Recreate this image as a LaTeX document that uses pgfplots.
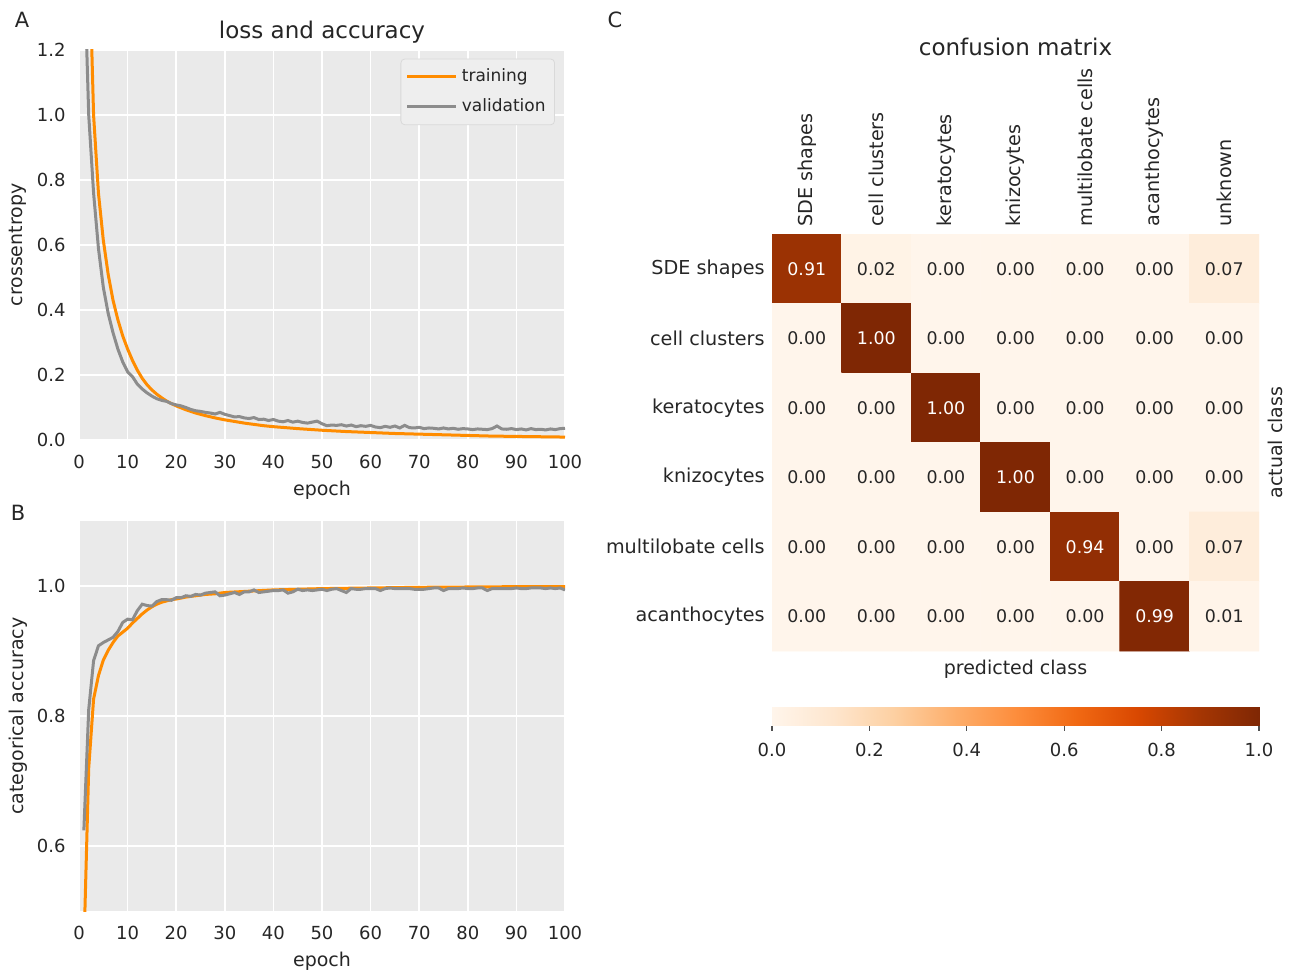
\documentclass[border=0pt]{standalone}
\usepackage{fontspec}
\setmainfont{DejaVu Sans}
\usepackage{pgfplots}
\pgfplotsset{compat=1.18}
\definecolor{bgc}{HTML}{EAEAEA}
\definecolor{txt}{HTML}{262626}
\definecolor{orl}{HTML}{FF8C00}
\definecolor{grl}{HTML}{8C8C8C}
\pgfplotsset{
  colormap={Oranges}{rgb255=(255,245,235) rgb255=(254,230,206) rgb255=(253,208,162) rgb255=(253,174,107) rgb255=(253,141,60) rgb255=(241,105,19) rgb255=(217,72,1) rgb255=(166,54,3) rgb255=(127,39,4)},
  curvestyle/.style={
    scale only axis, width=243pt, height=195pt, xmin=0, xmax=100,
    axis background/.style={fill=bgc},
    axis line style={draw=none},
    grid=major, major grid style={white, line width=0.75pt},
    major tick length=0pt,
    xtick={0,10,...,100},
    /pgf/number format/assume math mode=true,
    tick label style={font=\fontsize{9}{10}\selectfont, text=txt, inner sep=0pt},
    xticklabel style={anchor=base, yshift=-14.3pt},
    yticklabel style={anchor=east, xshift=-6.5pt, /pgf/number format/.cd, fixed, fixed zerofill, precision=1},
    label style={font=\fontsize{9.5}{11}\selectfont, text=txt},
    xlabel style={at={(axis description cs:0.5,0)}, anchor=base, yshift=-27.8pt},
    ylabel style={at={(axis description cs:-0.1255,0.5)}, anchor=center},
  },
}
\begin{document}
\begin{tikzpicture}
\useasboundingbox (0,0) rectangle (648pt,485pt);
\node[font=\fontsize{10.5}{12}\selectfont, text=txt] at (11pt,475pt) {A};
\node[font=\fontsize{10.5}{12}\selectfont, text=txt] at (9pt,228.5pt) {B};
\node[font=\fontsize{10.5}{12}\selectfont, text=txt] at (307.5pt,475pt) {C};

% ---------------- Panel A ----------------
\begin{axis}[curvestyle, at={(39.5pt,265pt)}, anchor=south west,
  ymin=0, ymax=1.2, ytick={0,0.2,...,1.2},
  xlabel={epoch}, ylabel={crossentropy},
  title={loss and accuracy},
  title style={at={(axis description cs:0.5,1)}, anchor=base, yshift=-0.5pt, font=\fontsize{11.5}{13}\selectfont, text=txt},
  legend style={at={(0.9794,0.978)}, anchor=north east, fill=bgc!80!white, draw=black!15, rounded corners=2pt,
    font=\fontsize{8.5}{10}\selectfont, text=txt, inner xsep=2.5pt, inner ysep=3pt, row sep=3pt},
  legend image code/.code={\draw[#1, line width=1.5pt] (0pt,0pt) -- (21pt,0pt); \path (0pt,0pt) -- (24.5pt,0pt);},
  legend cell align=left,
]
\addplot[orl, line width=1.5pt] coordinates {
(1,3.2) (2,1.55) (3,1.00) (4,0.76) (5,0.615) (6,0.51) (7,0.43) (8,0.37) (9,0.32) (10,0.28)
(11,0.245) (12,0.215) (13,0.19) (14,0.17) (15,0.154) (16,0.141) (17,0.130) (18,0.120) (19,0.112) (20,0.105)
(22,0.093) (24,0.083) (26,0.075) (28,0.068) (30,0.062) (32,0.057) (34,0.052) (36,0.048) (38,0.044) (40,0.041)
(45,0.035) (50,0.030) (55,0.026) (60,0.023) (65,0.020) (70,0.018) (75,0.016) (80,0.014) (85,0.012) (90,0.011) (95,0.010) (100,0.009)
};
\addlegendentry{training}
\addplot[grl, line width=1.5pt] coordinates {
(1,1.50) (2,1.00) (3,0.76) (4,0.59) (5,0.47) (6,0.39) (7,0.33) (8,0.28) (9,0.24) (10,0.21)
(11,0.195) (12,0.172) (13,0.157) (14,0.145) (15,0.135) (16,0.127) (17,0.122) (18,0.119) (19,0.112) (20,0.108)
(21,0.105) (22,0.100) (23,0.094) (24,0.090) (25,0.088) (26,0.085) (27,0.083) (28,0.080) (29,0.085) (30,0.079)
(31,0.075) (32,0.071) (33,0.072) (34,0.068) (35,0.066) (36,0.069) (37,0.063) (38,0.064) (39,0.060) (40,0.063)
(41,0.058) (42,0.056) (43,0.060) (44,0.055) (45,0.058) (46,0.054) (47,0.052) (48,0.055) (49,0.058) (50,0.050)
(51,0.044) (52,0.046) (53,0.045) (54,0.047) (55,0.043) (56,0.046) (57,0.041) (58,0.044) (59,0.042) (60,0.045)
(61,0.040) (62,0.038) (63,0.042) (64,0.039) (65,0.043) (66,0.037) (67,0.045) (68,0.038) (69,0.037) (70,0.039)
(71,0.035) (72,0.037) (73,0.036) (74,0.034) (75,0.037) (76,0.034) (77,0.036) (78,0.033) (79,0.035) (80,0.034)
(81,0.032) (82,0.034) (83,0.033) (84,0.032) (85,0.035) (86,0.043) (87,0.034) (88,0.033) (89,0.035) (90,0.032)
(91,0.034) (92,0.031) (93,0.035) (94,0.032) (95,0.033) (96,0.031) (97,0.034) (98,0.032) (99,0.035) (100,0.036)
};
\addlegendentry{validation}
\end{axis}

% ---------------- Panel B ----------------
\begin{axis}[curvestyle, at={(39.5pt,29.5pt)}, anchor=south west,
  ymin=0.5, ymax=1.1, ytick={0.6,0.8,1.0},
  xlabel={epoch}, ylabel={categorical accuracy},
]
\addplot[orl, line width=1.5pt] coordinates {
(1,0.44) (2,0.72) (3,0.826) (4,0.862) (5,0.886) (6,0.901) (7,0.913) (8,0.923) (9,0.929) (10,0.935)
(11,0.943) (12,0.950) (13,0.957) (14,0.963) (15,0.968) (16,0.972) (17,0.975) (18,0.977) (19,0.979) (20,0.980)
(22,0.983) (24,0.985) (26,0.987) (28,0.988) (30,0.990) (35,0.992) (40,0.994) (45,0.995) (50,0.996)
(60,0.997) (70,0.998) (80,0.9985) (90,0.999) (100,0.9992)
};
\addplot[grl, line width=1.5pt] coordinates {
(1,0.624) (2,0.81) (3,0.885) (4,0.908) (5,0.913) (6,0.917) (7,0.921) (8,0.930) (9,0.944) (10,0.949)
(11,0.948) (12,0.962) (13,0.972) (14,0.970) (15,0.969) (16,0.976) (17,0.979) (18,0.979) (19,0.978) (20,0.982)
(21,0.982) (22,0.985) (23,0.984) (24,0.987) (25,0.986) (26,0.989) (27,0.990) (28,0.991) (29,0.985) (30,0.986)
(31,0.988) (32,0.990) (33,0.987) (34,0.991) (35,0.991) (36,0.994) (37,0.990) (38,0.991) (39,0.992) (40,0.993)
(41,0.993) (42,0.994) (43,0.989) (44,0.991) (45,0.995) (46,0.993) (47,0.994) (48,0.993) (49,0.994) (50,0.995)
(51,0.993) (52,0.995) (53,0.996) (54,0.993) (55,0.990) (56,0.996) (57,0.995) (58,0.995) (59,0.996) (60,0.996)
(61,0.996) (62,0.993) (63,0.996) (64,0.997) (65,0.996) (66,0.996) (67,0.996) (68,0.996) (69,0.995) (70,0.995)
(71,0.995) (72,0.996) (73,0.997) (74,0.997) (75,0.993) (76,0.996) (77,0.996) (78,0.996) (79,0.997) (80,0.996)
(81,0.996) (82,0.997) (83,0.997) (84,0.993) (85,0.996) (86,0.996) (87,0.996) (88,0.996) (89,0.996) (90,0.997)
(91,0.996) (92,0.996) (93,0.997) (94,0.997) (95,0.997) (96,0.996) (97,0.997) (98,0.996) (99,0.997) (100,0.994)
};
\end{axis}

% ---------------- Panel C ----------------
\begin{axis}[at={(386pt,159.5pt)}, anchor=south west, scale only axis,
  width=243.5pt, height=208.5pt,
  xmin=-0.5, xmax=6.5, ymin=-0.5, ymax=5.5, y dir=reverse,
  axis line style={draw=none}, major tick length=0pt,
  xtick={0,...,6}, ytick={0,...,5},
  xticklabels={SDE shapes, cell clusters, keratocytes, knizocytes, multilobate cells, acanthocytes, unknown},
  yticklabels={SDE shapes, cell clusters, keratocytes, knizocytes, multilobate cells, acanthocytes},
  xticklabel pos=upper,
  tick label style={font=\fontsize{9.6}{11}\selectfont, text=txt},
  xticklabel style={rotate=90, anchor=west, inner xsep=3.5pt, inner ysep=0pt},
  yticklabel style={anchor=east, inner xsep=3.5pt, inner ysep=0pt},
  colormap name=Oranges, point meta min=0, point meta max=1,
  title={confusion matrix},
  title style={at={(axis description cs:0.5,1)}, anchor=base, yshift=83.5pt, font=\fontsize{11.5}{13}\selectfont, text=txt},
  xlabel={predicted class}, ylabel={actual class},
  label style={font=\fontsize{9.5}{11}\selectfont, text=txt},
  xlabel style={at={(axis description cs:0.5,0)}, anchor=base, yshift=-11.5pt},
  ylabel style={at={(axis description cs:1.0329,0.5)}, anchor=center, rotate=0},
]
\addplot[matrix plot*, mesh/cols=7, point meta=explicit] table[meta=c] {
x y c
0 0 0.91
1 0 0.02
2 0 0.00
3 0 0.00
4 0 0.00
5 0 0.00
6 0 0.07
0 1 0.00
1 1 1.00
2 1 0.00
3 1 0.00
4 1 0.00
5 1 0.00
6 1 0.00
0 2 0.00
1 2 0.00
2 2 1.00
3 2 0.00
4 2 0.00
5 2 0.00
6 2 0.00
0 3 0.00
1 3 0.00
2 3 0.00
3 3 1.00
4 3 0.00
5 3 0.00
6 3 0.00
0 4 0.00
1 4 0.00
2 4 0.00
3 4 0.00
4 4 0.94
5 4 0.00
6 4 0.07
0 5 0.00
1 5 0.00
2 5 0.00
3 5 0.00
4 5 0.00
5 5 0.99
6 5 0.01
};
\addplot[draw=none, mark=none, nodes near coords, point meta=explicit symbolic,
  nodes near coords style={anchor=center, font=\fontsize{8.7}{10}\selectfont, text=txt}] table[meta=t] {
x y t
1 0 0.02
2 0 0.00
3 0 0.00
4 0 0.00
5 0 0.00
6 0 0.07
0 1 0.00
2 1 0.00
3 1 0.00
4 1 0.00
5 1 0.00
6 1 0.00
0 2 0.00
1 2 0.00
3 2 0.00
4 2 0.00
5 2 0.00
6 2 0.00
0 3 0.00
1 3 0.00
2 3 0.00
4 3 0.00
5 3 0.00
6 3 0.00
0 4 0.00
1 4 0.00
2 4 0.00
3 4 0.00
5 4 0.00
6 4 0.07
0 5 0.00
1 5 0.00
2 5 0.00
3 5 0.00
4 5 0.00
6 5 0.01
};
\addplot[draw=none, mark=none, nodes near coords, point meta=explicit symbolic,
  nodes near coords style={anchor=center, font=\fontsize{8.7}{10}\selectfont, text=white}] table[meta=t] {
x y t
0 0 0.91
1 1 1.00
2 2 1.00
3 3 1.00
4 4 0.94
5 5 0.99
};
\end{axis}

% ---------------- Colorbar ----------------
\begin{axis}[at={(386pt,122pt)}, anchor=south west, scale only axis,
  width=243.5pt, height=9.5pt,
  xmin=0, xmax=1, ymin=0, ymax=1, ytick=\empty,
  xtick={0,0.2,0.4,0.6,0.8,1.0},
  axis line style={draw=none},
  tick align=outside, xtick pos=lower, major tick length=2.5pt,
  tick style={txt!80, line width=0.6pt},
  /pgf/number format/assume math mode=true,
  tick label style={font=\fontsize{9}{10}\selectfont, text=txt, inner sep=0pt},
  xticklabel style={anchor=base, yshift=-12.75pt, /pgf/number format/.cd, fixed, fixed zerofill, precision=1},
  colormap name=Oranges, point meta min=0, point meta max=1,
]
\addplot[surf, shader=interp, mesh/cols=9, point meta=x] coordinates {
(0,0) (0.125,0) (0.25,0) (0.375,0) (0.5,0) (0.625,0) (0.75,0) (0.875,0) (1,0)
(0,1) (0.125,1) (0.25,1) (0.375,1) (0.5,1) (0.625,1) (0.75,1) (0.875,1) (1,1)
};
\end{axis}
\end{tikzpicture}
\end{document}
